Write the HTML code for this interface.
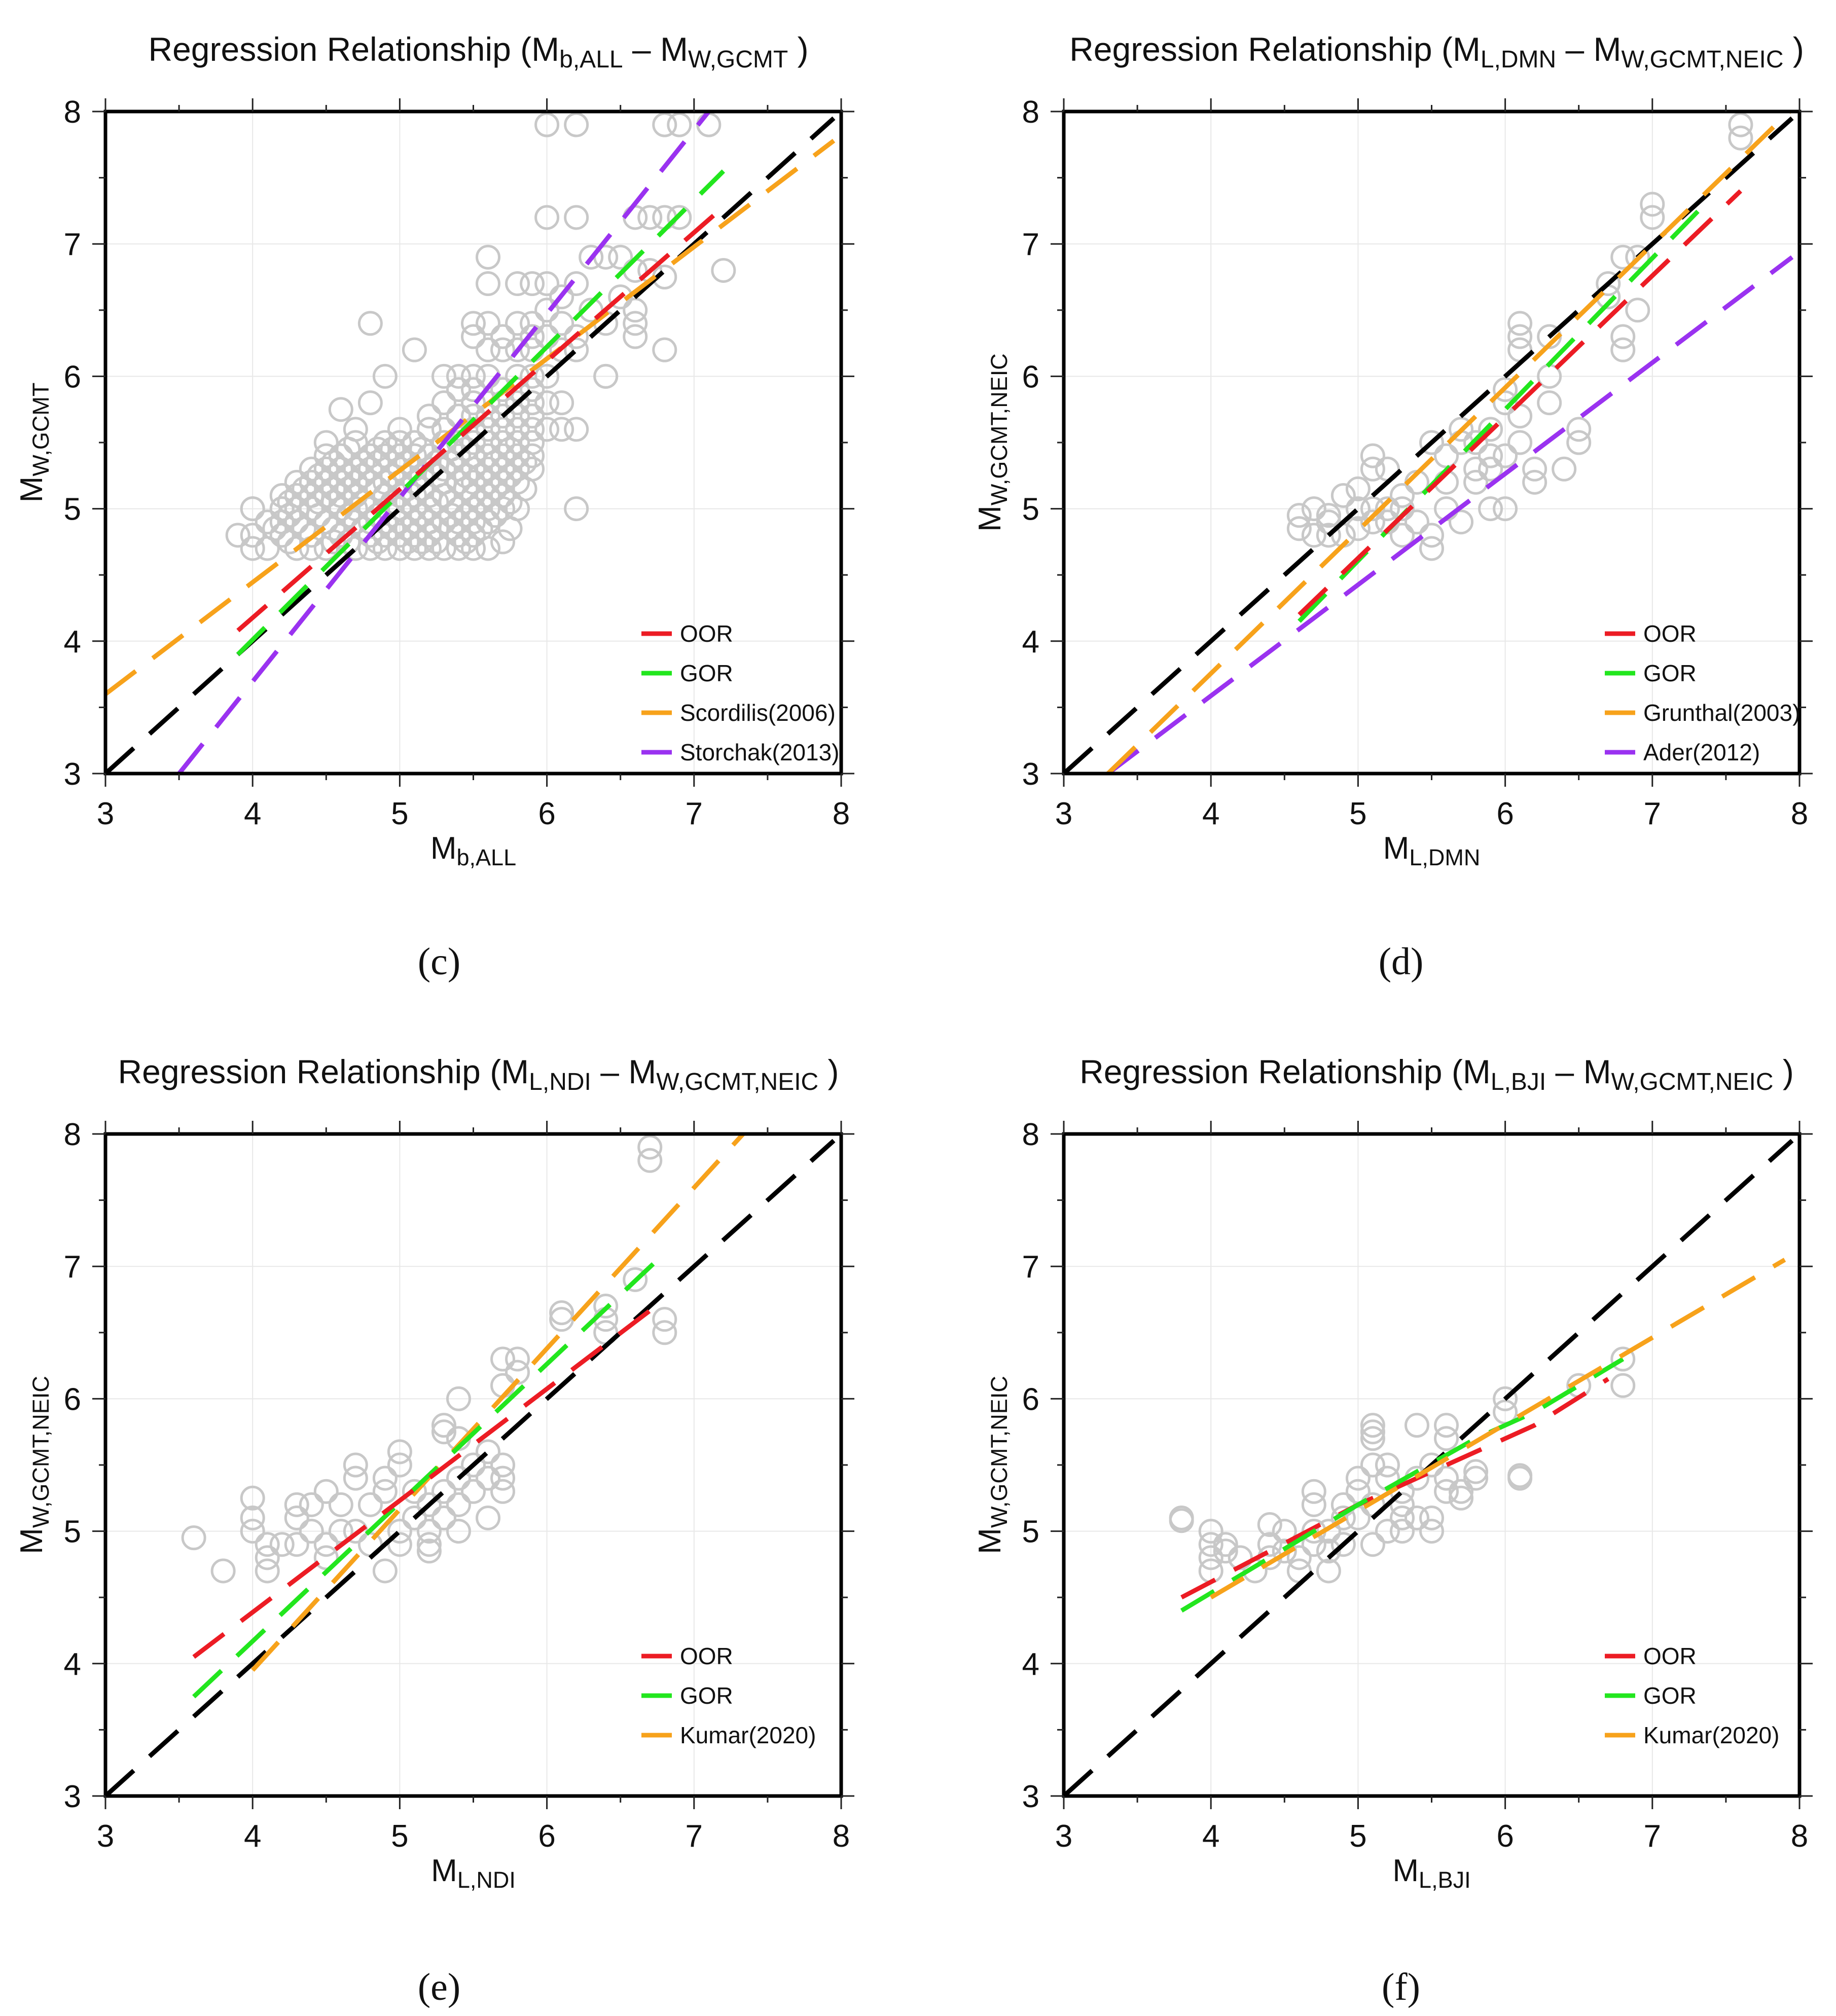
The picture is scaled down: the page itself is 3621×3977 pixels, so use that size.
<!DOCTYPE html>
<html><head><meta charset="utf-8"><style>
html,body{margin:0;padding:0;background:#fff}
svg{display:block}
text{font-family:"Liberation Sans",sans-serif;fill:#111}
.cap{font-family:"Liberation Serif",serif}
</style></head><body>
<svg id="fig" width="3621" height="3977" viewBox="0 0 3621 3977" xmlns="http://www.w3.org/2000/svg"></svg>
<script>
const tickVals = [3,4,5,6,7,8];
// panel (c)
const cRowY = [4.7,4.75,4.8,4.85,4.9,4.95,5.0,5.05,5.1,5.15,5.2,5.25,5.3,5.35,5.4,5.45,5.5,5.6,5.7,5.8,5.9,6.0,6.2,6.3,6.4];
const cRowX = [
 [4.0,4.1,4.3,4.4,4.5,4.7,4.8,4.9,5.0,5.1,5.2,5.3,5.4,5.5,5.6],
 [4.25,4.55,4.65,4.85,5.05,5.15,5.25,5.45,5.7],
 [3.9,4.0,4.2,4.4,4.6,4.8,4.9,5.0,5.1,5.2,5.4,5.5],
 [4.15,4.35,4.55,4.75,4.95,5.05,5.25,5.35,5.55,5.75],
 [4.1,4.2,4.3,4.5,4.7,4.8,4.9,5.0,5.1,5.2,5.3,5.4,5.5,5.6],
 [4.25,4.45,4.65,4.85,5.15,5.35,5.45,5.65],
 [4.0,4.2,4.3,4.4,4.6,4.7,4.8,5.0,5.1,5.2,5.4,5.5,5.6,5.7,5.8],
 [4.25,4.45,4.55,4.75,4.95,5.05,5.25,5.35,5.55,5.75],
 [4.2,4.3,4.4,4.5,4.6,4.7,4.9,5.0,5.1,5.2,5.3,5.5,5.6,5.7],
 [4.35,4.55,4.65,4.85,5.05,5.15,5.45,5.65,5.85],
 [4.3,4.4,4.5,4.6,4.7,4.8,4.9,5.0,5.1,5.3,5.4,5.5,5.6,5.7,5.8],
 [4.45,4.65,4.75,4.95,5.15,5.25,5.45,5.55,5.75],
 [4.4,4.5,4.6,4.7,4.8,5.0,5.1,5.2,5.3,5.4,5.5,5.6,5.7,5.8,5.9],
 [4.55,4.75,4.85,5.05,5.25,5.35,5.65,5.85],
 [4.5,4.6,4.8,4.9,5.0,5.1,5.2,5.4,5.5,5.6,5.7,5.8,5.9],
 [4.65,4.85,4.95,5.15,5.35,5.45,5.75],
 [4.5,4.7,4.9,5.0,5.1,5.3,5.4,5.5,5.6,5.7,5.8,5.9],
 [5.0,5.2,5.3,5.5,5.6,5.7,5.8,5.9,6.0,6.1,6.2],
 [5.2,5.4,5.5,5.6,5.7,5.8,5.9],
 [5.3,5.5,5.6,5.7,5.8,5.9,6.0,6.1],
 [5.4,5.5,5.7,5.8,5.9],
 [4.9,5.4,5.5,5.6,5.8,5.9,6.0,6.4],
 [5.1,5.6,5.7,5.8,5.9,6.1,6.2],
 [5.5,5.7,5.9,6.0,6.2,6.6],
 [4.8,5.5,5.6,5.8,5.9,6.1,6.4,6.6]
];
const cExtra = [[6.0,7.9],[6.2,7.9],[6.8,7.9],[6.9,7.9],[7.1,7.9],[6.0,7.2],[6.2,7.2],[6.6,7.2],[6.7,7.2],[6.8,7.2],[6.9,7.2],[5.6,6.9],[7.2,6.8],[6.8,6.2],[6.2,5.0],[4.6,5.75],[5.6,6.7],[5.8,6.7],[5.9,6.7],[6.0,6.7],[6.2,6.7],[6.3,6.9],[6.4,6.9],[6.5,6.9],[6.6,6.8],[6.7,6.8],[6.8,6.75],[6.5,6.6],[6.3,6.5],[6.1,6.6],[6.0,6.5],[6.4,6.0],[6.6,6.5],[5.3,6.0],[4.8,5.8],[4.7,5.6],[4.0,5.0],[4.2,5.0]];
const cOOR = [[3.9,4.08],[7.2,7.28]];
const cGOR = [[3.9,3.9],[7.2,7.55]];
const cScord = [[3.0,3.6],[7.95,7.78]];
const cStor = [[3.5,3.0],[7.1,8.0]];
// panel (d)
const dPts = [[4.6,4.85],[4.6,4.95],[4.7,5.0],[4.7,4.8],[4.8,4.9],[4.8,4.95],[4.9,5.1],[4.9,4.8],[5.0,5.15],[5.0,4.85],[5.1,5.4],[5.1,5.3],[5.1,4.9],[5.1,5.0],[5.2,5.0],[5.2,4.9],[5.3,5.1],[5.3,5.0],[5.4,4.9],[5.4,5.2],[5.5,4.7],[5.5,4.8],[5.5,5.5],[5.6,5.4],[5.6,5.2],[5.7,4.9],[5.7,5.5],[5.8,5.3],[5.8,5.2],[5.8,5.5],[5.9,5.0],[5.9,5.3],[5.9,5.6],[6.0,5.0],[6.0,5.8],[6.0,5.4],[6.1,6.4],[6.1,6.3],[6.1,6.2],[6.1,5.7],[6.1,5.5],[6.2,5.2],[6.2,5.3],[6.3,6.3],[6.3,6.0],[6.3,5.8],[6.4,5.3],[6.5,5.5],[6.5,5.6],[6.7,6.7],[6.7,6.6],[6.8,6.9],[6.8,6.2],[6.8,6.3],[6.9,6.5],[6.9,6.9],[7.0,7.3],[7.0,7.2],[7.6,7.9],[7.6,7.8],[5.2,5.3],[5.3,4.8],[5.6,5.0],[5.9,5.4],[6.0,5.9],[5.7,5.6],[5.0,5.0],[4.8,4.8]];
const dOOR = [[4.6,4.2],[7.6,7.4]];
const dGOR = [[4.6,4.15],[7.4,7.35]];
const dGrun = [[3.3,3.0],[7.95,8.02]];
const dAder = [[3.3,3.0],[7.95,6.9]];
// panel (e)
const ePts = [[3.6,4.95],[3.8,4.7],[4.0,5.25],[4.0,5.1],[4.0,5.0],[4.1,4.9],[4.1,4.8],[4.1,4.7],[4.2,4.9],[4.3,5.2],[4.3,5.1],[4.3,4.9],[4.4,5.2],[4.4,5.0],[4.5,5.3],[4.5,4.9],[4.5,4.8],[4.6,5.2],[4.6,5.0],[4.7,5.5],[4.7,5.4],[4.7,5.0],[4.8,5.2],[4.8,4.9],[4.9,5.4],[4.9,5.3],[4.9,4.7],[5.0,5.6],[5.0,5.5],[5.0,5.0],[5.0,4.9],[5.1,5.3],[5.1,5.1],[5.2,5.2],[5.2,5.0],[5.2,4.9],[5.2,4.85],[5.3,5.8],[5.3,5.75],[5.3,5.3],[5.3,5.1],[5.4,6.0],[5.4,5.7],[5.4,5.4],[5.4,5.2],[5.4,5.0],[5.5,5.5],[5.5,5.3],[5.6,5.6],[5.6,5.4],[5.6,5.1],[5.7,6.3],[5.7,6.1],[5.7,5.5],[5.7,5.4],[5.7,5.3],[5.8,6.3],[5.8,6.2],[6.1,6.65],[6.1,6.6],[6.4,6.7],[6.4,6.6],[6.4,6.5],[6.6,6.9],[6.8,6.6],[6.8,6.5],[6.7,7.9],[6.7,7.8]];
const eOOR = [[3.6,4.05],[6.8,6.75]];
const eGOR = [[3.6,3.75],[6.8,7.1]];
const eKumar = [[4.0,3.95],[7.35,8.02]];
// panel (f)
const fPts = [[3.8,5.1],[3.8,5.08],[4.0,5.0],[4.0,4.9],[4.0,4.8],[4.0,4.7],[4.1,4.9],[4.1,4.85],[4.2,4.8],[4.3,4.7],[4.4,5.05],[4.4,4.9],[4.4,4.8],[4.5,5.0],[4.5,4.85],[4.6,4.8],[4.6,4.7],[4.7,5.3],[4.7,5.2],[4.7,5.0],[4.7,4.9],[4.8,4.7],[4.8,4.85],[4.8,5.0],[4.9,5.2],[4.9,4.9],[4.9,5.1],[5.0,5.4],[5.0,5.3],[5.0,5.1],[5.1,5.8],[5.1,5.75],[5.1,5.7],[5.1,5.5],[5.1,5.2],[5.1,4.9],[5.2,5.5],[5.2,5.4],[5.2,5.0],[5.3,5.3],[5.3,5.2],[5.3,5.1],[5.3,5.0],[5.4,5.8],[5.4,5.4],[5.4,5.1],[5.5,5.5],[5.5,5.1],[5.5,5.0],[5.6,5.8],[5.6,5.7],[5.6,5.4],[5.6,5.3],[5.7,5.3],[5.7,5.25],[5.8,5.45],[5.8,5.4],[6.0,6.0],[6.0,5.9],[6.1,5.42],[6.1,5.4],[6.5,6.1],[6.8,6.3],[6.8,6.1]];
const fOOR = [[3.8,4.5],[5.0,5.2],[6.0,5.7],[6.2,5.8],[6.7,6.15]];
const fGOR = [[3.8,4.4],[5.0,5.2],[5.8,5.7],[6.2,5.9],[6.8,6.3]];
const fKumar = [[4.0,4.5],[7.9,7.05]];
const oneToOne = [[3.0,3.0],[7.95,7.95]];

const NS = "http://www.w3.org/2000/svg";
const svg = document.getElementById('fig');
function mk(tag, attrs, parent){const e=document.createElementNS(NS,tag);for(const k in attrs)e.setAttribute(k,attrs[k]);(parent||svg).appendChild(e);return e;}
const COL = {red:'#ec1c24',green:'#22e61e',orange:'#f7a21b',purple:'#9a32f0',black:'#000'};
const W = 1451, H = 1306;

function panel(p){
  const g = mk('g',{});
  
  
  const x0=p.x0, y0=p.y0;
  const sx = v => x0 + (v-3)/5*W;
  const sy = v => y0 + H - (v-3)/5*H;
  const clipId = 'clip'+p.id;
  const cp = mk('clipPath',{id:clipId},g); mk('rect',{x:x0,y:y0,width:W,height:H},cp);
  tickVals.forEach(v=>{
    if(v>3&&v<8){
      const gl1 = mk('line',{x1:sx(v),x2:sx(v),y1:y0,y2:y0+H,stroke:'#e8e8e8','stroke-width':2},g);
      
      
      const gl2 = mk('line',{x1:x0,x2:x0+W,y1:sy(v),y2:sy(v),stroke:'#e8e8e8','stroke-width':2},g);
      
      
    }
  });
  const pg = mk('g',{'clip-path':'url(#'+clipId+')'},g);
  
  
  p.pts.forEach(pt=>{
    const c = mk('circle',{cx:sx(pt[0]),cy:sy(pt[1]),r:22,fill:'none',stroke:'#c8c8c8','stroke-width':5},pg);
    
    
  });
  const lg = mk('g',{'clip-path':'url(#'+clipId+')'},g);
  p.lines.forEach(L=>{
    const d = L.pts.map((q,i)=>(i?'L':'M')+sx(q[0]).toFixed(1)+' '+sy(q[1]).toFixed(1)).join(' ');
    const pa = mk('path',{d:d,fill:'none',stroke:COL[L.c],'stroke-width':9,'stroke-dasharray':'75 42'},lg);
    
    
  });
  const fr = mk('rect',{x:x0,y:y0,width:W,height:H,fill:'none',stroke:'#000','stroke-width':7},g);
  
  
  for(let v=3; v<=8.001; v+=0.5){
    const major = Math.abs(v-Math.round(v))<0.01;
    const len = major?26:13;
    const X=sx(v), Y=sy(v);
    [[X,y0,X,y0-len],[X,y0+H,X,y0+H+len],[x0,Y,x0-len,Y],[x0+W,Y,x0+W+len,Y]].forEach(s=>{
      const t=mk('line',{x1:s[0],y1:s[1],x2:s[2],y2:s[3],stroke:'#222','stroke-width':3},g);
      
      
    });
  }
  tickVals.forEach(v=>{
    const tx = mk('text',{x:sx(v),y:y0+H+100,'font-size':62,'text-anchor':'middle'},g);
    tx.textContent = String(v);
    
    
    const ty = mk('text',{x:x0-48,y:sy(v)+22,'font-size':62,'text-anchor':'end'},g);
    ty.textContent = String(v);
    
    
  });
  const tt = mk('text',{x:x0+W/2+10,y:y0-100,'font-size':66,'text-anchor':'middle'},g);
  
  
  tt.innerHTML = 'Regression Relationship (M<tspan font-size="48" dy="13">'+p.xs+'</tspan><tspan dy="-13"> – M</tspan><tspan font-size="48" dy="13">'+p.ys+'</tspan><tspan dy="-13"> )</tspan>';
  const xt = mk('text',{x:x0+W/2,y:y0+H+168,'font-size':62,'text-anchor':'middle'},g);
  
  
  xt.innerHTML = 'M<tspan font-size="45" dy="13">'+p.xs+'</tspan>';
  const cy = y0+H*0.5;
  const yt = mk('text',{x:0,y:0,'font-size':62,'text-anchor':'middle',transform:'translate('+(x0-125)+','+cy+') rotate(-90)'},g);
  
  
  yt.innerHTML = 'M<tspan font-size="45" dy="13">'+p.ys+'</tspan>';
  const lgd = mk('g',{},g);
  
  
  p.legend.forEach((L,i)=>{
    const yy = y0 + 1030 + i*78;
    const ll = mk('line',{x1:x0+p.lx,x2:x0+p.lx+60,y1:yy,y2:yy,stroke:COL[L.c],'stroke-width':9},lgd);
    
    
    const lt = mk('text',{x:x0+p.lx+76,y:yy+16,'font-size':46},lgd);
    lt.textContent = L.label;
    
    
  });
  const cap = mk('text',{x:p.capx,y:p.capy,'font-size':76,'text-anchor':'middle','class':'cap'},g);
  cap.textContent = '('+p.id+')';
  
  
}

const cPts = cExtra.slice();
cRowY.forEach((y,i)=>cRowX[i].forEach(x=>cPts.push([x,y])));

panel({id:'c',x0:208,y0:220,xs:'b,ALL',ys:'W,GCMT',pts:cPts,lx:1057,capx:866,capy:1922,
  lines:[{pts:oneToOne,c:'black',name:'one-to-one'},{pts:cScord,c:'orange',name:'scordilis'},{pts:cStor,c:'purple',name:'storchak'},{pts:cGOR,c:'green',name:'gor'},{pts:cOOR,c:'red',name:'oor'}],
  legend:[{c:'red',label:'OOR'},{c:'green',label:'GOR'},{c:'orange',label:'Scordilis(2006)'},{c:'purple',label:'Storchak(2013)'}]});
panel({id:'d',x0:2098,y0:220,xs:'L,DMN',ys:'W,GCMT,NEIC',pts:dPts,lx:1067,capx:2763,capy:1922,
  lines:[{pts:oneToOne,c:'black',name:'one-to-one'},{pts:dAder,c:'purple',name:'ader'},{pts:dGrun,c:'orange',name:'grunthal'},{pts:dGOR,c:'green',name:'gor'},{pts:dOOR,c:'red',name:'oor'}],
  legend:[{c:'red',label:'OOR'},{c:'green',label:'GOR'},{c:'orange',label:'Grunthal(2003)'},{c:'purple',label:'Ader(2012)'}]});
panel({id:'e',x0:208,y0:2237,xs:'L,NDI',ys:'W,GCMT,NEIC',pts:ePts,lx:1057,capx:866,capy:3945,
  lines:[{pts:oneToOne,c:'black',name:'one-to-one'},{pts:eKumar,c:'orange',name:'kumar'},{pts:eGOR,c:'green',name:'gor'},{pts:eOOR,c:'red',name:'oor'}],
  legend:[{c:'red',label:'OOR'},{c:'green',label:'GOR'},{c:'orange',label:'Kumar(2020)'}]});
panel({id:'f',x0:2098,y0:2237,xs:'L,BJI',ys:'W,GCMT,NEIC',pts:fPts,lx:1067,capx:2763,capy:3945,
  lines:[{pts:oneToOne,c:'black',name:'one-to-one'},{pts:fOOR,c:'red',name:'oor'},{pts:fGOR,c:'green',name:'gor'},{pts:fKumar,c:'orange',name:'kumar'}],
  legend:[{c:'red',label:'OOR'},{c:'green',label:'GOR'},{c:'orange',label:'Kumar(2020)'}]});
</script>
</body></html>
